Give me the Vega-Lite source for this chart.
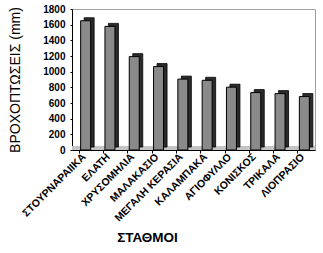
{
  "$schema": "https://vega.github.io/schema/vega-lite/v6.json",
  "autosize": "none",
  "width": 243,
  "height": 141,
  "padding": {"left": 72, "top": 9, "right": 8, "bottom": 103},
  "background": "white",
  "config": {
    "font": "Liberation Sans",
    "view": {"stroke": "#a0a0a0", "strokeWidth": 1}
  },
  "data": {
    "values": [
      {"station": "ΣΤΟΥΡΝΑΡΑΙΙΚΑ", "rain": 1650},
      {"station": "ΕΛΑΤΗ", "rain": 1578},
      {"station": "ΧΡΥΣΟΜΗΛΙΑ", "rain": 1192},
      {"station": "ΜΑΛΑΚΑΣΙΟ", "rain": 1065},
      {"station": "ΜΕΓΑΛΗ ΚΕΡΑΣΙΑ", "rain": 905},
      {"station": "ΚΑΛΑΜΠΑΚΑ", "rain": 890},
      {"station": "ΑΓΙΟΦΥΛΛΟ", "rain": 802},
      {"station": "ΚΟΝΙΣΚΟΣ", "rain": 733},
      {"station": "ΤΡΙΚΑΛΑ", "rain": 720},
      {"station": "ΛΙΟΠΡΑΣΙΟ", "rain": 682}
    ]
  },
  "encoding": {
    "x": {
      "field": "station",
      "type": "nominal",
      "sort": null,
      "scale": {"paddingInner": 0, "paddingOuter": 0},
      "axis": {
        "title": "ΣΤΑΘΜΟΙ",
        "titleFont": "Liberation Sans",
        "titleFontSize": 13.5,
        "titleFontWeight": "bold",
        "titleColor": "black",
        "titleX": 75,
        "titleY": 87,
        "titleBaseline": "middle",
        "labelAngle": -45,
        "labelFontSize": 10.5,
        "labelFontWeight": "bold",
        "labelColor": "black",
        "labelAlign": "right",
        "labelBaseline": "middle",
        "labelPadding": 2,
        "labelOverlap": false,
        "tickSize": 3,
        "tickColor": "black",
        "domainColor": "black",
        "bandPosition": 0.3
      }
    },
    "y": {
      "field": "rain",
      "type": "quantitative",
      "scale": {"domain": [0, 1800], "nice": false},
      "axis": {
        "title": "ΒΡΟΧΟΠΤΩΣΕΙΣ (mm)",
        "titleFont": "Liberation Sans",
        "titleFontSize": 14,
        "titleFontWeight": "normal",
        "titleColor": "black",
        "titlePadding": 20,
        "format": "d",
        "values": [0, 200, 400, 600, 800, 1000, 1200, 1400, 1600, 1800],
        "labelFontSize": 10,
        "labelFontWeight": "bold",
        "labelColor": "black",
        "labelPadding": 5,
        "tickSize": 2,
        "tickColor": "black",
        "domainColor": "black",
        "grid": false
      }
    }
  },
  "layer": [
    {
      "data": {"values": [{"floor": 0, "floorTop": 50}]},
      "mark": {"type": "rect", "color": "#c4c4c4"},
      "encoding": {
        "x": null,
        "y": {"field": "floor", "type": "quantitative"},
        "y2": {"field": "floorTop"}
      }
    },
    {
      "mark": {"type": "bar", "size": 10, "color": "#2b2b2b", "stroke": "black", "strokeWidth": 0.8, "xOffset": 5, "yOffset": -3}
    },
    {
      "mark": {"type": "bar", "size": 10, "color": "#8a8a8a", "stroke": "black", "strokeWidth": 1, "xOffset": 1.5}
    }
  ]
}
